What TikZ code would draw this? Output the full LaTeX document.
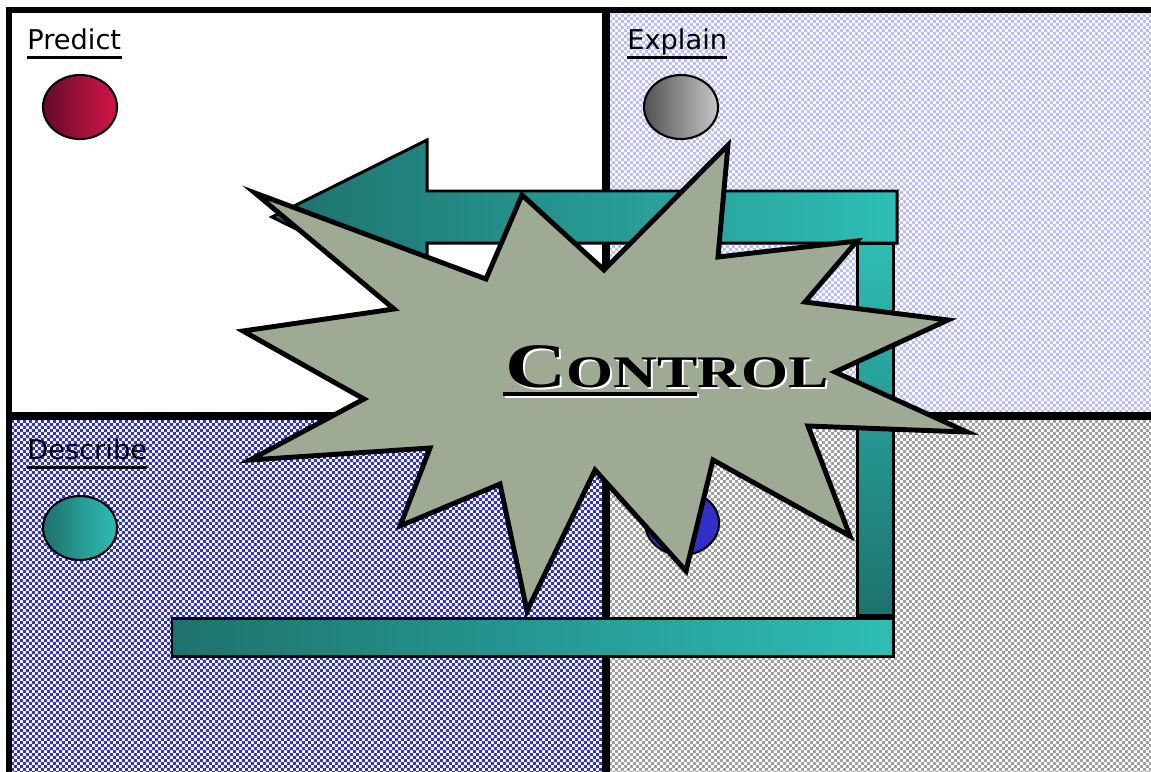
\documentclass[tikz,border=0pt]{standalone}
\usepackage{fontspec}
\usepackage{tikz}
\usetikzlibrary{shapes.geometric,calc,patterns.meta}
\newfontfamily\quadfont{DejaVu Sans}
\newfontfamily\ctrlfont{Liberation Serif}
\definecolor{sage}{RGB}{158,170,148}
\definecolor{tealdark}{RGB}{30,114,110}
\definecolor{teallight}{RGB}{46,189,180}
\definecolor{lavender}{RGB}{188,188,255}
\definecolor{checkblue}{RGB}{51,51,204}
\definecolor{checkgray}{RGB}{160,160,160}
\definecolor{berry}{RGB}{212,22,72}
\definecolor{berrydark}{RGB}{100,10,40}
\definecolor{dotblue}{RGB}{48,48,200}
\pgfdeclarepattern{
  name=chk, type=uncolored,
  bottom left={\pgfpointorigin}, top right={\pgfpoint{3.4pt}{3.4pt}},
  tile size={\pgfpoint{3.4pt}{3.4pt}},
  code={
    \pgfpathrectangle{\pgfpointorigin}{\pgfpoint{1.7pt}{1.7pt}}
    \pgfpathrectangle{\pgfpoint{1.7pt}{1.7pt}}{\pgfpoint{1.7pt}{1.7pt}}
    \pgfusepath{fill}
  }}
\newcommand{\ctrlword}{\scalebox{1.34}[1]{{\fontsize{36pt}{36pt}\selectfont C}{\fontsize{25.7pt}{26pt}\selectfont ONTROL}}}
\tikzset{
  qlabel/.style={font=\quadfont\fontsize{15.5pt}{18pt}\selectfont,anchor=base west,inner sep=0pt},
  uline/.style={draw=black,line width=1.7pt},
  dot/.style={ellipse,draw=black,line width=1.2pt,minimum width=1.48cm,minimum height=1.28cm,inner sep=0pt},
  rule/.style={draw=black,line width=4.5pt},
  frame/.style={draw=black,line width=3.4pt},
  bar/.style={draw=black,line width=1.7pt},
  burst/.style={draw=black,fill=sage,line width=2.8pt,line join=miter},
  ctrltxt/.style={font=\ctrlfont\bfseries,anchor=base west,inner sep=0pt}
}
\begin{document}
\begin{tikzpicture}[x=0.02cm,y=-0.02cm]
\useasboundingbox (0,0) rectangle (1151,771);
\clip (0,0) rectangle (1151,771);
% quadrants
\fill[white] (0,0) rectangle (1151,771);
\fill[pattern=chk,pattern color=lavender] (606,10) rectangle (1160,416);
\fill[pattern=chk,pattern color=checkblue] (9,416) rectangle (606,780);
\fill[pattern=chk,pattern color=checkgray] (606,416) rectangle (1160,780);
\draw[frame] (9,790) -- (9,10) -- (1170,10);
\draw[rule] (606,10) -- (606,790);
\draw[rule] (9,416) -- (1170,416);
% labels and dots
\node[qlabel] (predict) at (27,49) {Predict};
\node[qlabel] (explain) at (627,49) {Explain};
\node[qlabel] (describe) at (27,459) {Describe};
\foreach \q in {predict,explain,describe}
  \draw[uline] ([yshift=-0.17cm]\q.base west) -- ([yshift=-0.17cm]\q.base east);
\node[dot,left color=berrydark,right color=berry] (dotpredict) at (80,107) {};
\node[dot,left color=black!68,right color=black!22] (dotexplain) at (681,107) {};
\node[dot,left color=tealdark,right color=teallight] (dotdescribe) at (80,528) {};
\node[dot,fill=dotblue] (dotcontrol) at (682,523) {};
% arrow
\shadedraw[bar,top color=teallight,bottom color=tealdark] (857,243) rectangle (893,615);
\shadedraw[bar,left color=tealdark,right color=teallight] (172,618) rectangle (893,656);
\shadedraw[bar,left color=tealdark,right color=teallight]
  (897,191) -- (427,191) -- (427,140) -- (272,217) -- (427,294) -- (427,243) -- (897,243) -- cycle;
% burst
\draw[burst] (255,193) -- (486,279) -- (522,195) -- (604,270) -- (728,145) -- (718,257)
  -- (857,241) -- (805,302) -- (948,320) -- (835,372) -- (967,432) -- (808,426)
  -- (850,536) -- (713,460) -- (686,571) -- (595,470) -- (527,611) -- (500,484)
  -- (400,526) -- (430,448) -- (250,460) -- (364,399) -- (243,331) -- (394,309) -- cycle;
\node[ctrltxt,text=white] (ctrlshadow) at (507,389) {\ctrlword};
\node[ctrltxt] (ctrl) at (505,387) {\ctrlword};
\coordinate (ulA) at (503,394);
\coordinate (ulB) at (697,394);
\draw[white,line width=2.3pt] ([shift={(2,2)}]ulA) -- ([shift={(2,2)}]ulB);
\draw[black,line width=2.3pt] (ulA) -- (ulB);
\end{tikzpicture}
\end{document}
